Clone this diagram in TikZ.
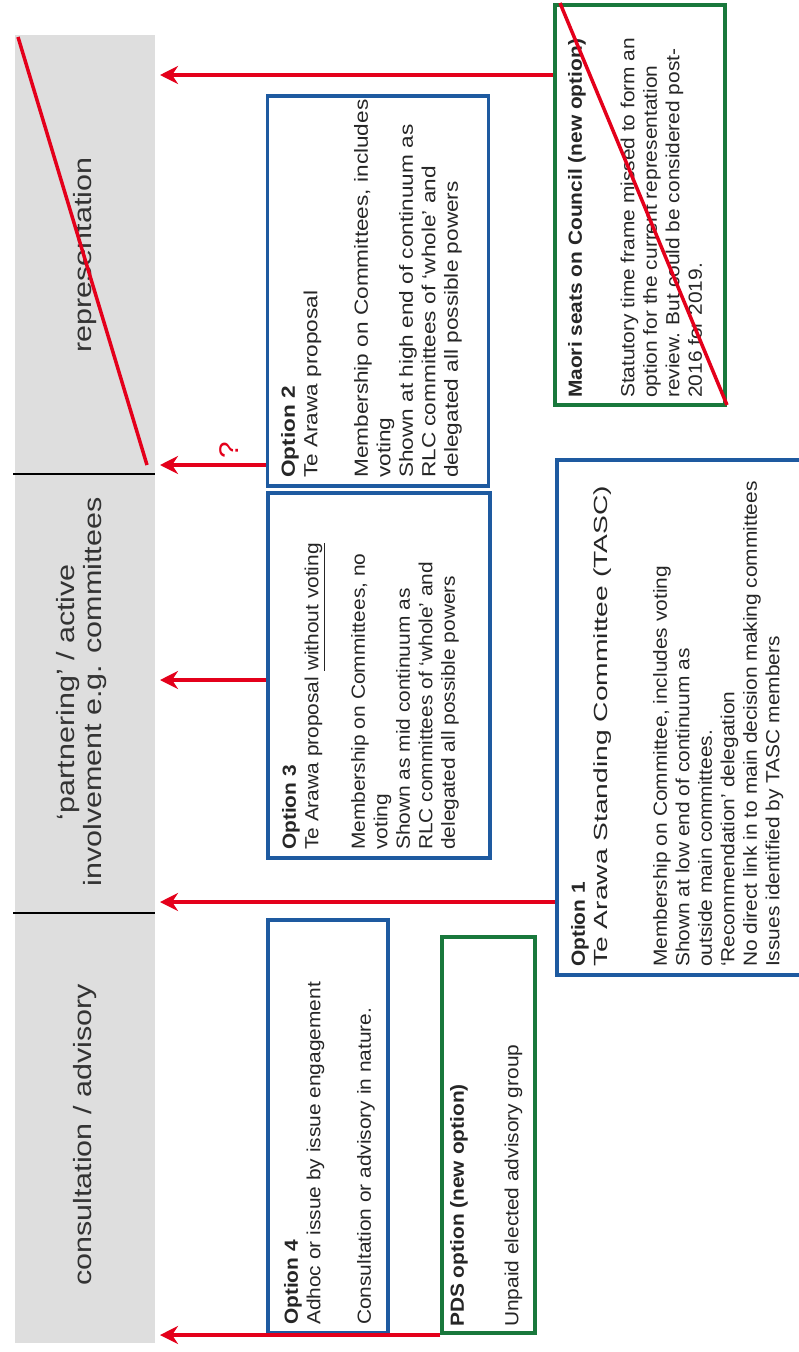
\documentclass[tikz,border=0pt]{standalone}
\usepackage{fontspec}
\setmainfont{Liberation Sans}[FakeStretch=1.1]
\newfontfamily\widefont{Liberation Sans}[FakeStretch=1.19]
\newfontfamily\labfont{Liberation Sans}[FakeStretch=1.22]
\usetikzlibrary{arrows.meta}
\definecolor{arrred}{RGB}{228,0,27}
\definecolor{boxblue}{RGB}{30,90,160}
\definecolor{boxgreen}{RGB}{25,120,60}
\definecolor{bandgray}{RGB}{222,222,222}
\begin{document}
\begin{tikzpicture}[x=1pt,y=-1pt,
  box/.style={draw, line width=3.5pt, rectangle, inner sep=0pt},
  bluebox/.style={box, draw=boxblue},
  greenbox/.style={box, draw=boxgreen},
  txt/.style={rotate=90, anchor=north west, inner sep=0pt, align=left, font=\fontsize{19}{22.5}\selectfont, text=black!85},
  lab/.style={rotate=90, inner sep=0pt, align=center, font=\labfont\fontsize{25}{27}\selectfont, text=black!80},
  arr/.style={draw=arrred, line width=4pt, -{Stealth[length=18pt,width=18pt]}},
  strike/.style={draw=arrred, line width=3.5pt}
]
\useasboundingbox (0,0) rectangle (799,1352);
\clip (0,0) rectangle (799,1352);
\fill[white] (0,0) rectangle (799,1352);

% grey band
\node[fill=bandgray, minimum width=140pt, minimum height=1308pt, inner sep=0pt] (band) at (85,689) {};
\coordinate (d1a) at (13,474); \coordinate (d1b) at (155,474);
\coordinate (d2a) at (13,913); \coordinate (d2b) at (155,913);
\draw[line width=1.5pt] (d1a) -- (d1b);
\draw[line width=1.5pt] (d2a) -- (d2b);

\node[lab] (lrep) at (85,255) {representation};
\node[lab] (lpart) at (82,692) {‘partnering’ / active\\involvement e.g. committees};
\node[lab] (lcons) at (85,1135) {consultation / advisory};

\coordinate (s1a) at (18,37); \coordinate (s1b) at (147,465);
\draw[strike] (s1a) -- (s1b);

% boxes
\node[greenbox, minimum width=170pt, minimum height=400pt] (maori) at (640,205) {};
\node[bluebox, minimum width=221pt, minimum height=390pt] (o2) at (378,291) {};
\node[bluebox, minimum width=222pt, minimum height=365pt] (o3) at (379,675.5) {};
\node[bluebox, minimum width=273pt, minimum height=515pt] (o1) at (693.5,717.5) {};
\node[bluebox, minimum width=120pt, minimum height=413pt] (o4) at (328,1126.5) {};
\node[greenbox, minimum width=93pt, minimum height=396pt] (pds) at (488.5,1135) {};

% texts
\node[txt] (mt) at (568,398) {\textbf{Maori seats on Council (new option)}\\[30pt]Statutory time frame missed to form an\\option for the current representation\\review. But could be considered post-\\2016 for 2019.};
\node[txt, font=\widefont\fontsize{19}{22.5}\selectfont] (o2t) at (281,478) {\textbf{Option 2}\\Te Arawa proposal\\[28pt]Membership on Committees, includes\\voting\\Shown at high end of continuum as\\RLC committees of ‘whole’ and\\delegated all possible powers};
\node[txt] (o3t) at (282,850) {\textbf{Option 3}\\Te Arawa proposal \underline{without voting}\\[24pt]Membership on Committees, no\\voting\\Shown as mid continuum as\\RLC committees of ‘whole’ and\\delegated all possible powers};
\node[txt] (o1t) at (571,967) {\textbf{Option 1}\\\scalebox{1.35}[1]{Te Arawa Standing Committee (TASC)}\\[37pt]Membership on Committee, includes voting\\Shown at low end of continuum as\\outside main committees.\\‘Recommendation’ delegation\\No direct link in to main decision making committees\\Issues identified by TASC members};
\node[txt] (o4t) at (284,1325) {\textbf{Option 4}\\Adhoc or issue by issue engagement\\[28pt]Consultation or advisory in nature.};
\node[txt] (pt) at (450,1327) {\textbf{PDS option (new option)}\\[32pt]Unpaid elected advisory group};

\coordinate (s2a) at (560,3); \coordinate (s2b) at (727,405);
\draw[strike] (s2a) -- (s2b);

% arrows
\coordinate (t1) at (160,75);
\coordinate (t2) at (160,465);
\coordinate (t3) at (160,680);
\coordinate (t4) at (160,902);
\coordinate (t5) at (160,1335);
\draw[arr] (maori.west |- t1) -- (t1);
\draw[arr] (o2.west |- t2) -- (t2);
\draw[arr] (o3.west |- t3) -- (t3);
\draw[arr] (o1.west |- t4) -- (t4);
\draw[arr] (pds.west |- t5) -- (t5);
\node[rotate=90, text=arrred, inner sep=0pt, font=\fontsize{27}{27}\selectfont] (q) at (229,450) {?};
\end{tikzpicture}
\end{document}
